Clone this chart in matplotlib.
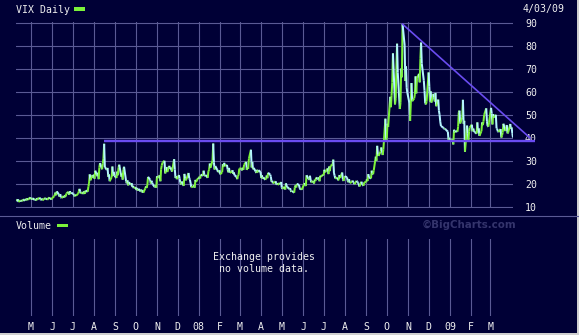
import matplotlib
matplotlib.use('Agg')
import matplotlib.pyplot as plt
import matplotlib.dates as mdates
from matplotlib.collections import LineCollection
from matplotlib.patches import Rectangle
from matplotlib.lines import Line2D
import numpy as np
import pandas as pd

# daily VIX values, one per weekday from 2007-04-10
start_day = '2007-04-10'
vix = [
    # apr 07
    13.2, 12.6, 13.4, 12.2, 12.9, 12.4, 13.1, 12.5, 13.3, 12.8, 13.6, 12.9, 13.8, 13.1, 14.2,
    # may
    13.4, 14.0, 13.2, 13.8, 13.0, 13.5, 12.8, 13.9, 13.3, 14.1, 13.4, 13.0, 13.7, 12.9, 13.6,
    14.0, 13.3, 13.8, 13.1, 14.2, 13.5, 13.9, 13.2,
    # jun
    13.8, 14.6, 15.2, 16.3, 15.1, 16.8, 15.4, 14.5, 15.6, 14.2, 13.9, 14.8, 14.1, 15.2, 14.6,
    15.9, 16.6, 15.3, 16.9, 15.8, 16.2,
    # jul
    15.8, 15.2, 14.6, 15.4, 14.9, 15.8, 16.6, 17.9, 16.8, 15.9, 16.4, 15.6, 16.9, 15.8, 17.2,
    16.6, 18.8, 20.4, 24.2, 21.6, 23.9, 22.8,
    # aug
    24.1, 22.3, 25.8, 23.4, 24.9, 22.1, 27.2, 29.1, 26.4, 28.8, 31.2, 37.5, 27.4, 26.1, 27.0,
    23.1, 24.2, 21.2, 23.0, 27.6, 23.5, 25.3, 23.6,
    # sep
    22.6, 25.4, 23.8, 27.1, 28.4, 23.2, 24.6, 21.9, 26.3, 27.5, 21.2, 20.3, 21.6, 19.4, 20.8,
    19.6, 20.4, 18.7, 19.2, 18.2,
    # oct
    18.6, 17.4, 18.3, 17.1, 17.9, 16.8, 17.6, 16.4, 17.3, 16.2, 18.1, 19.0, 18.3, 19.6, 23.1,
    21.9, 20.2, 21.4, 20.6, 19.8, 18.6, 19.5, 18.4,
    # nov
    23.4, 22.6, 23.8, 21.2, 26.4, 28.1, 29.3, 30.1, 24.6, 26.0, 27.4, 25.2, 27.9, 26.6, 27.2,
    26.0, 25.4, 30.8, 26.4, 22.6, 23.4, 22.1,
    # dec
    23.9, 22.4, 20.6, 19.8, 21.1, 19.2, 24.4, 22.3, 21.6, 22.1, 24.8, 22.5, 21.9, 20.4, 18.6,
    18.9, 19.6, 18.4, 21.8, 20.9, 22.6,
    # jan 08
    22.5, 23.2, 22.4, 24.1, 23.6, 25.8, 24.0, 23.4, 23.9, 22.7, 25.6, 26.2, 28.9, 27.1, 30.2,
    37.6, 29.4, 26.3, 27.8, 26.1, 25.2, 25.4, 26.0,
    # feb
    24.2, 25.1, 28.6, 27.4, 29.2, 27.9, 28.3, 26.4, 25.1, 27.0, 24.9, 25.3, 26.0, 24.4, 25.1,
    23.8, 23.2, 22.1, 23.4, 24.0, 26.7,
    # mar
    26.8, 25.9, 27.1, 26.2, 28.4, 29.6, 26.1, 27.3, 26.6, 31.0, 34.9, 27.2, 29.6, 26.4, 27.0,
    25.4, 24.8, 26.2, 25.1, 26.0, 25.2,
    # apr
    22.6, 23.8, 22.3, 22.9, 21.8, 22.6, 23.7, 22.5, 24.9, 24.1, 23.2, 21.0, 21.4, 20.3, 20.9,
    21.2, 19.8, 20.4, 19.6, 20.5, 19.9, 20.9,
    # may
    18.4, 17.9, 18.8, 17.6, 20.3, 19.2, 18.7, 17.8, 18.2, 17.1, 16.6, 17.0, 16.2, 18.6, 19.4,
    18.5, 20.1, 19.6, 18.3, 17.6, 17.9, 17.5,
    # jun
    19.6, 20.4, 19.9, 19.1, 23.8, 22.2, 21.9, 23.6, 21.7, 20.7, 21.3, 20.2, 21.9, 21.3, 22.8,
    22.1, 22.9, 21.2, 23.6, 23.1, 24.1,
    # jul
    23.8, 26.2, 25.1, 25.4, 26.8, 24.3, 27.6, 25.6, 27.9, 28.4, 30.6, 24.8, 23.6, 22.4, 22.8,
    21.6, 21.9, 23.9, 22.6, 25.0, 22.1, 21.3, 23.0,
    # aug
    23.4, 22.9, 21.4, 20.8, 22.1, 20.4, 20.9, 21.5, 20.8, 20.6, 19.9, 21.4, 21.0, 20.6, 20.1,
    18.9, 21.0, 20.1, 19.6, 19.2, 20.7,
    # sep
    20.8, 22.1, 21.3, 24.3, 22.9, 22.4, 25.8, 24.6, 24.2, 25.9, 31.9, 30.1, 36.6, 33.0, 32.2,
    34.1, 35.9, 34.4, 32.6, 34.9, 48.4, 39.2,
    # oct
    39.8, 46.2, 44.8, 57.9, 53.4, 58.6, 64.2, 76.8, 54.6, 57.1, 69.8, 81.0, 68.4, 52.6, 55.4,
    70.2, 66.4, 89.5, 80.4, 64.8, 71.2, 61.8, 59.6,
    # nov
    55.2, 47.4, 54.8, 63.9, 56.0, 57.2, 59.1, 66.8, 59.4, 66.0, 67.9, 64.2, 74.6, 81.5, 72.4,
    64.9, 60.6, 55.2, 54.6, 55.8,
    # dec
    68.5, 62.4, 55.9, 60.3, 55.4, 59.2, 57.6, 55.9, 59.6, 53.8, 56.7, 51.9, 50.1, 47.0, 45.2,
    44.6, 44.3, 43.9, 44.1, 43.6, 42.8, 39.2, 40.1,
    # jan 09
    39.3, 38.6, 39.4, 37.2, 43.6, 42.4, 43.1, 42.7, 44.9, 51.2, 51.9, 46.3, 49.0, 56.6, 46.2,
    47.5, 34.0, 45.4, 42.1, 38.9, 42.8, 44.6,
    # feb
    45.8, 42.9, 44.1, 43.2, 42.6, 41.9, 46.8, 42.5, 44.2, 40.9, 43.0, 46.8, 45.6, 47.2, 50.1,
    52.9, 47.3, 45.2, 44.9, 46.6,
    # mar
    53.1, 50.6, 45.9, 50.4, 48.9, 50.1, 44.2, 43.9, 42.8, 42.6, 43.9, 40.2, 41.1, 42.4, 46.2,
    43.0, 44.9, 45.6, 42.0, 42.4, 46.1, 44.0,
    # apr
    44.6, 42.1, 40.2,
]

month_labels = ['M', 'J', 'J', 'A', 'S', 'O', 'N', 'D', '08', 'F', 'M', 'A',
                'M', 'J', 'J', 'A', 'S', 'O', 'N', 'D', '09', 'F', 'M']
price_ticks = [10, 20, 30, 40, 50, 60, 70, 80, 90]

# drawn trend lines
support_x = ['2007-08-16', '2009-05-05']
support_y = [38.5, 38.5]
resist_x = ['2008-10-24', '2009-04-28']
resist_y = [89.5, 40.0]

W, H = 579, 335
BG = '#000036'
GRID = '#5a5a94'
TXT = '#f0f0f0'
UP = '#7cf23a'
DOWN = '#b4f4ff'
TREND = '#6a4cf0'
MONO = 'DejaVu Sans Mono'
FS = 7.1


def box(x0, y0, x1, y1):
    # pixel box (top-left origin) -> figure fraction
    return [x0 / W, 1 - y1 / H, (x1 - x0) / W, (y1 - y0) / H]


def fxy(x, y):
    return x / W, 1 - y / H


dates = pd.bdate_range(start_day, periods=len(vix))
xd = mdates.date2num(dates.values)
month_ticks = mdates.date2num(pd.date_range('2007-05-01', '2009-03-01', freq='MS').values)
xlim = (mdates.date2num(np.datetime64('2007-04-09T12:00')),
        mdates.date2num(np.datetime64('2009-04-03T00:00')))

fig = plt.figure(figsize=(W / 100, H / 100), dpi=100)
fig.patch.set_facecolor(BG)

# price panel
ax = fig.add_axes(box(16, 23 - 0.7, 513, 207 + 0.7))
ax.set_facecolor(BG)
ax.set_xlim(*xlim)
ax.set_ylim(9.7, 90.3)
ax.set_yticks(price_ticks)
ax.set_xticks(month_ticks)
ax.grid(True, color=GRID, lw=0.8)
ax.set_axisbelow(True)
for s in ax.spines.values():
    s.set_visible(False)
ax.tick_params(length=0, labelbottom=False, labelleft=False, labelright=True,
               left=False, right=False, bottom=False, pad=8.6)
for lab in ax.get_yticklabels():
    lab.set_fontfamily(MONO)
    lab.set_fontsize(FS)
    lab.set_color(TXT)

v = np.array(vix)
pts = np.column_stack([xd, v])
segs = np.stack([pts[:-1], pts[1:]], axis=1)
cols = [UP if v[i + 1] >= v[i] else DOWN for i in range(len(v) - 1)]
lc = LineCollection(segs, colors=cols, linewidths=1.45, zorder=3)
ax.add_collection(lc)

ax.plot(mdates.date2num(np.array(support_x, dtype='datetime64[D]')), support_y,
        color=TREND, lw=1.7, clip_on=False, zorder=4, solid_capstyle='butt')
ax.plot(mdates.date2num(np.array(resist_x, dtype='datetime64[D]')), resist_y,
        color=TREND, lw=1.2, clip_on=False, zorder=4)

# volume panel
axv = fig.add_axes(box(16, 239, 513, 316))
axv.set_facecolor(BG)
axv.set_xlim(*xlim)
axv.set_ylim(0, 1)
axv.set_yticks([])
axv.set_xticks(month_ticks)
axv.set_xticklabels(month_labels, fontfamily=MONO, fontsize=FS, color=TXT)
axv.grid(True, axis='x', color=GRID, lw=0.8)
for s in axv.spines.values():
    s.set_visible(False)
axv.tick_params(length=0, pad=4.2)

# header texts
fig.text(*fxy(16, 10), 'VIX Daily', fontfamily=MONO, fontsize=FS, color=TXT,
         ha='left', va='center')
fig.add_artist(Rectangle(fxy(74, 11), 11 / W, 3.5 / H, transform=fig.transFigure,
                         color=UP, lw=0))
fig.text(*fxy(565, 9), '4/03/09', fontfamily=MONO, fontsize=FS, color=TXT,
         ha='right', va='center')

fig.text(*fxy(16, 226), 'Volume', fontfamily=MONO, fontsize=FS, color=TXT,
         ha='left', va='center')
fig.add_artist(Rectangle(fxy(57, 227), 11 / W, 3.5 / H, transform=fig.transFigure,
                         color=UP, lw=0))
fig.text(*fxy(469, 225), '\u00a9BigCharts.com', fontfamily='DejaVu Sans',
         fontweight='bold', fontsize=7.4, color='#34346c', ha='center', va='center')
fig.text(*fxy(264, 257), 'Exchange provides', fontfamily=MONO, fontsize=FS,
         color=TXT, ha='center', va='center')
fig.text(*fxy(264, 269), 'no volume data.', fontfamily=MONO, fontsize=FS,
         color=TXT, ha='center', va='center')

# panel separator and frame
fig.add_artist(Line2D([0, 1], [1 - 216 / H, 1 - 216 / H], transform=fig.transFigure,
                      color=GRID, lw=0.8))
fig.add_artist(Rectangle((0, 0), 1, 2.5 / H, transform=fig.transFigure,
                         color='#d0d0d0', lw=0))
fig.add_artist(Rectangle(((W - 2.5) / W, 0), 2.5 / W, 1, transform=fig.transFigure,
                         color='#d0d0d0', lw=0))

fig.savefig('out.png', dpi=100, facecolor=BG)
